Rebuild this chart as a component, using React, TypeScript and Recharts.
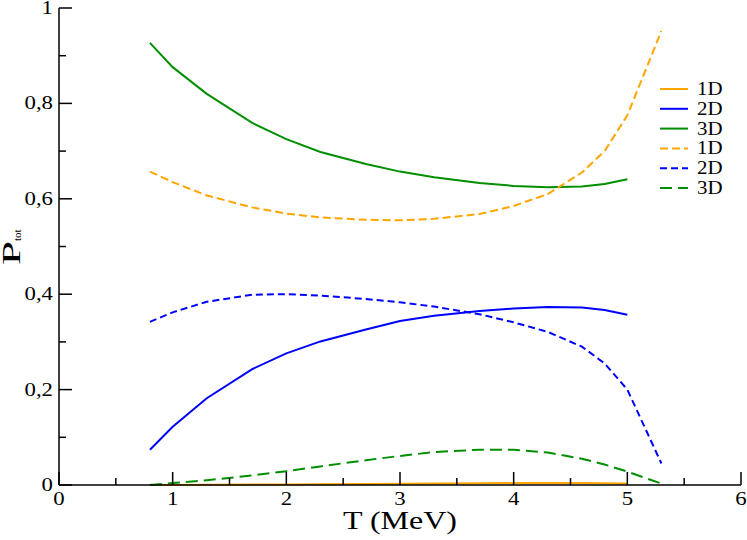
import React from 'react';
import { LineChart, Line, XAxis, YAxis, Legend } from 'recharts';

// temperatures (MeV); the solid curves end at 5.0, the dashed ones at 5.3
const temperatures = [0.8, 1.0, 1.3, 1.7, 2.0, 2.3, 2.7, 3.0, 3.3, 3.7, 4.0, 4.3, 4.6, 4.8, 5.0, 5.3];

const solid1D = [0.0, 0.0, 0.0005, 0.001, 0.0013, 0.0017, 0.002, 0.0025, 0.003, 0.0035, 0.004, 0.0042, 0.004, 0.0035, 0.003, null];
const solid2D = [0.074, 0.122, 0.182, 0.243, 0.276, 0.301, 0.326, 0.344, 0.355, 0.365, 0.37, 0.373, 0.372, 0.367, 0.357, null];
const solid3D = [0.927, 0.876, 0.82, 0.759, 0.725, 0.698, 0.673, 0.657, 0.645, 0.633, 0.627, 0.624, 0.626, 0.631, 0.641, null];
const dashed1D = [0.657, 0.635, 0.607, 0.582, 0.569, 0.561, 0.556, 0.555, 0.558, 0.568, 0.585, 0.61, 0.655, 0.7, 0.775, 0.952];
const dashed2D = [0.342, 0.362, 0.384, 0.399, 0.4, 0.397, 0.39, 0.383, 0.374, 0.358, 0.341, 0.321, 0.29, 0.255, 0.2, 0.045];
const dashed3D = [0.0, 0.004, 0.01, 0.02, 0.029, 0.039, 0.052, 0.061, 0.069, 0.074, 0.074, 0.068, 0.055, 0.043, 0.028, 0.003];

const xTicks = [0, 0.5, 1, 1.5, 2, 2.5, 3, 3.5, 4, 4.5, 5, 5.5, 6];
const yTicks = [0, 0.1, 0.2, 0.3, 0.4, 0.5, 0.6, 0.7, 0.8, 0.9, 1];

const data = temperatures.map((T, i) => ({
  T,
  s1: solid1D[i],
  s2: solid2D[i],
  s3: solid3D[i],
  d1: dashed1D[i],
  d2: dashed2D[i],
  d3: dashed3D[i],
}));

const ORANGE = '#FFA500';
const BLUE = '#0000FF';
const GREEN = '#008F00';

const series = [
  { key: 's1', name: '1D', color: ORANGE, dash: undefined },
  { key: 's2', name: '2D', color: BLUE, dash: undefined },
  { key: 's3', name: '3D', color: GREEN, dash: undefined },
  { key: 'd1', name: '1D', color: ORANGE, dash: '8 4' },
  { key: 'd2', name: '2D', color: BLUE, dash: '7 4' },
  { key: 'd3', name: '3D', color: GREEN, dash: '12 6' },
];

const W = 747;
const H = 540;
const PLOT = { left: 59, right: 741, top: 8, bottom: 485 };
const FONT = 'Liberation Serif, Times New Roman, Times, serif';

const fmt = (v: number) => String(v).replace('.', ',');
const isMajorX = (v: number) => Number.isInteger(v);
const isMajorY = (v: number) => Math.round(v * 10) % 2 === 0;

// grace-style fonts are a bit wider than Liberation Serif
const BottomTick = (props: any) => {
  const { x, payload } = props;
  const major = isMajorX(payload.value);
  return (
    <g>
      <line x1={x} x2={x} y1={PLOT.bottom} y2={PLOT.bottom - (major ? 13 : 7)} stroke="#000" strokeWidth={1.5} />
      {major && (
        <text transform={`translate(${x},505) scale(1.2,1)`} textAnchor="middle" fontSize={19} fontFamily={FONT} fill="#000">
          {fmt(payload.value)}
        </text>
      )}
    </g>
  );
};

const TopTick = (props: any) => {
  const { x, payload } = props;
  const major = isMajorX(payload.value);
  return <line x1={x} x2={x} y1={PLOT.top} y2={PLOT.top + (major ? 13 : 7)} stroke="#000" strokeWidth={1.5} />;
};

const LeftTick = (props: any) => {
  const { y, payload } = props;
  const major = isMajorY(payload.value);
  return (
    <g>
      <line x1={PLOT.left} x2={PLOT.left + (major ? 13 : 7)} y1={y} y2={y} stroke="#000" strokeWidth={1.5} />
      {major && (
        <text transform={`translate(53,${y + 6}) scale(1.2,1)`} textAnchor="end" fontSize={19} fontFamily={FONT} fill="#000">
          {fmt(payload.value)}
        </text>
      )}
    </g>
  );
};

const RightTick = (props: any) => {
  const { y, payload } = props;
  const major = isMajorY(payload.value);
  return <line x1={PLOT.right} x2={PLOT.right - (major ? 13 : 7)} y1={y} y2={y} stroke="#000" strokeWidth={1.5} />;
};

const XTitle = () => (
  <text x={400} y={529} textAnchor="middle" fontSize={26} fontFamily={FONT} fill="#000" textLength={114} lengthAdjust="spacingAndGlyphs">
    T (MeV)
  </text>
);

const YTitle = () => (
  <text transform="translate(20,265) rotate(-90)" fontFamily={FONT} fill="#000">
    <tspan fontSize={26} textLength={24} lengthAdjust="spacingAndGlyphs">P</tspan>
    <tspan fontSize={11} dy={1}>tot</tspan>
  </text>
);

const LegendBox = () => (
  <svg width={80} height={120} style={{ display: 'block' }}>
    {series.map((s, i) => {
      const cy = 9 + i * 19.8;
      return (
        <g key={s.key}>
          <line x1={5} x2={33} y1={cy} y2={cy} stroke={s.color} strokeWidth={2} strokeDasharray={s.dash} />
          <text transform={`translate(42,${cy + 6}) scale(1.1,1)`} fontSize={19} fontFamily={FONT} fill="#000">
            {s.name}
          </text>
        </g>
      );
    })}
  </svg>
);

export default function App() {
  return (
    <div style={{ width: W, height: H, background: '#fff' }}>
      <style>{'body{margin:0}'}</style>
      <LineChart width={W} height={H} data={data} margin={{ top: 8, right: 6, bottom: 0, left: 0 }}>
        <XAxis
          xAxisId={0}
          dataKey="T"
          type="number"
          domain={[0, 6]}
          ticks={xTicks}
          interval={0}
          height={55}
          axisLine={{ stroke: '#000', strokeWidth: 1.5 }}
          tickLine={false}
          tick={<BottomTick />}
          label={{ content: () => <XTitle /> }}
        />
        <XAxis
          xAxisId="top"
          orientation="top"
          dataKey="T"
          type="number"
          domain={[0, 6]}
          ticks={xTicks}
          interval={0}
          height={0}
          axisLine={{ stroke: '#000', strokeWidth: 1.5 }}
          tickLine={false}
          tick={<TopTick />}
        />
        <YAxis
          yAxisId={0}
          type="number"
          domain={[0, 1]}
          ticks={yTicks}
          interval={0}
          width={59}
          axisLine={{ stroke: '#000', strokeWidth: 1.5 }}
          tickLine={false}
          tick={<LeftTick />}
          label={{ content: () => <YTitle /> }}
        />
        <YAxis
          yAxisId="right"
          orientation="right"
          type="number"
          domain={[0, 1]}
          ticks={yTicks}
          interval={0}
          width={0}
          axisLine={{ stroke: '#000', strokeWidth: 1.5 }}
          tickLine={false}
          tick={<RightTick />}
        />
        {series.map((s) => (
          <Line
            key={s.key}
            xAxisId={0}
            yAxisId={0}
            type="linear"
            dataKey={s.key}
            name={s.name}
            stroke={s.color}
            strokeWidth={2}
            strokeDasharray={s.dash}
            dot={false}
            activeDot={false}
            connectNulls={false}
            isAnimationActive={false}
          />
        ))}
        <Legend
          layout="horizontal"
          align="center"
          verticalAlign="middle"
          content={() => <LegendBox />}
          wrapperStyle={{ position: 'absolute', left: 655, top: 80, width: 80, height: 120 }}
        />
      </LineChart>
    </div>
  );
}
